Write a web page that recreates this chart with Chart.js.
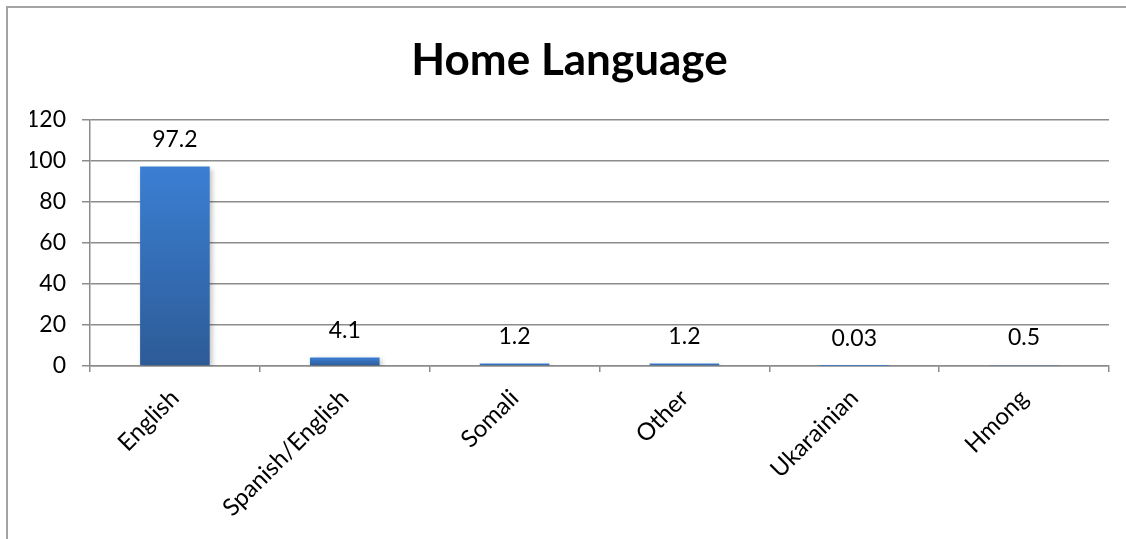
<!DOCTYPE html>
<html lang="en">
<head>
  <meta charset="UTF-8" />
  <title>Home Language</title>
  <script src="https://cdn.jsdelivr.net/npm/chart.js"></script>
  <style>
    html, body { margin: 0; padding: 0; background: #fff; overflow: hidden; }
    canvas { display: block; }
  </style>
</head>
<body>
  <canvas id="langChart" width="1126" height="539"></canvas>

  <script>
    // data
    const languages = ["English", "Spanish/English", "Somali", "Other", "Ukarainian", "Hmong"];
    const percents = [97.2, 4.1, 1.2, 1.2, 0.03, 0.5];
    const yTicks = [0, 20, 40, 60, 80, 100, 120];

    const FONT = "Lato, 'Open Sans', sans-serif";

    // gradient per bar, lighter on top
    function barGradient(context) {
      const { chart } = context;
      if (!chart.chartArea || context.type !== "data") return "#3670ba";
      const y = chart.scales.y;
      const top = y.getPixelForValue(context.raw);
      const base = y.getPixelForValue(0);
      if (base - top < 1) return "#3a77c8";
      const g = chart.ctx.createLinearGradient(0, top, 0, base);
      g.addColorStop(0, "#3b7fd3");
      g.addColorStop(1, "#2d5b96");
      return g;
    }

    // outer chart frame (only left and top edges fall inside the window)
    const outerFrame = {
      id: "outerFrame",
      beforeDraw(chart) {
        const ctx = chart.ctx;
        ctx.save();
        ctx.strokeStyle = "#a3a3a3";
        ctx.lineWidth = 2;
        ctx.beginPath();
        ctx.moveTo(7, chart.height);
        ctx.lineTo(7, 7);
        ctx.lineTo(chart.width, 7);
        ctx.stroke();
        ctx.restore();
      }
    };

    // soft shadow behind bars
    const barShadow = {
      id: "barShadow",
      beforeDatasetsDraw(chart) {
        const ctx = chart.ctx;
        ctx.save();
        ctx.shadowColor = "rgba(0,0,0,0.25)";
        ctx.shadowBlur = 5;
        ctx.shadowOffsetX = 2;
        ctx.shadowOffsetY = 2;
      },
      afterDatasetsDraw(chart) {
        chart.ctx.restore();
      }
    };

    // value labels above bars
    const valueLabels = {
      id: "valueLabels",
      afterDatasetsDraw(chart) {
        const ctx = chart.ctx;
        const meta = chart.getDatasetMeta(0);
        ctx.save();
        ctx.font = "23px " + FONT;
        ctx.fillStyle = "#000";
        ctx.textAlign = "center";
        ctx.textBaseline = "middle";
        meta.data.forEach((bar, i) => {
          ctx.fillText(String(percents[i]), bar.x, bar.y - 27);
        });
        ctx.restore();
      }
    };

    const ctx = document.getElementById("langChart").getContext("2d");
    const chart = new Chart(ctx, {
      type: "bar",
      data: {
        labels: languages,
        datasets: [{
          data: percents,
          backgroundColor: barGradient,
          borderWidth: 0,
          categoryPercentage: 1,
          barPercentage: 0.41
        }]
      },
      options: {
        responsive: false,
        animation: false,
        layout: { padding: { left: 30, right: 17, top: 0, bottom: 0 } },
        plugins: {
          legend: { display: false },
          tooltip: { enabled: false },
          title: {
            display: true,
            text: "Home Language",
            color: "#000",
            font: { family: FONT, size: 44, weight: "bold", lineHeight: 1.2 },
            padding: { top: 34, bottom: 33 }
          }
        },
        scales: {
          x: {
            grid: { drawOnChartArea: false, drawTicks: true, tickLength: 6, color: "#8c8c8c", lineWidth: 1.5 },
            border: { color: "#8c8c8c", width: 1.5 },
            ticks: {
              color: "#000",
              font: { family: FONT, size: 24 },
              minRotation: 45, maxRotation: 45,
              autoSkip: false,
              padding: 12
            },
            afterFit(scale) { scale.height = 173; }
          },
          y: {
            min: 0, max: 120,
            afterBuildTicks(scale) { scale.ticks = yTicks.map(v => ({ value: v })); },
            grid: { color: "#8c8c8c", lineWidth: 1.5, drawTicks: true, tickLength: 8 },
            border: { color: "#8c8c8c", width: 1.5 },
            ticks: {
              color: "#000",
              font: { family: FONT, size: 23 },
              padding: 16
            },
            afterFit(scale) { scale.width = 60; }
          }
        }
      },
      plugins: [outerFrame, barShadow, valueLabels]
    });
  </script>
</body>
</html>
